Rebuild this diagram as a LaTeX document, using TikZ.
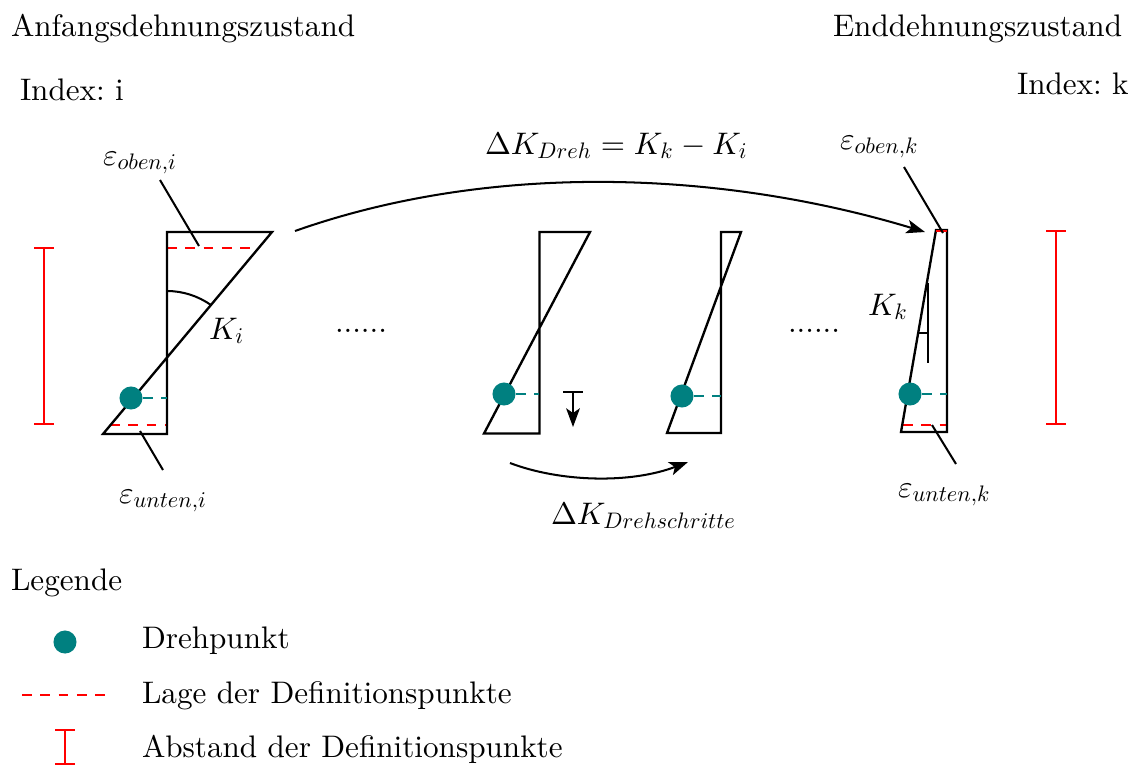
\documentclass[tikz,border=0pt]{standalone}
\usetikzlibrary{arrows.meta}
\DeclareFontFamily{OML}{cmmz}{\skewchar\font127 }
\DeclareFontShape{OML}{cmmz}{m}{it}{<->cmmi10}{}
\DeclareSymbolFont{letters}{OML}{cmmz}{m}{it}
\DeclareMathSizes{10}{10}{7.2}{5}
\definecolor{pivot}{RGB}{0,128,128}
\tikzset{
  x=0.321pt,y=-0.321pt,
  shape line/.style={black,line width=0.75pt,line join=miter},
  leader/.style={black,line width=0.65pt},
  defline/.style={red,line width=0.65pt,dash pattern=on 3.2pt off 2.66pt},
  pivotline/.style={pivot,line width=0.65pt,dash pattern=on 3.2pt off 2.66pt},
  span/.style={red,line width=0.75pt,{Bar[width=6.4pt,line width=0.75pt]}-{Bar[width=6.4pt,line width=0.75pt]}},
  pivotdot/.style={circle,fill=pivot,inner sep=0pt,minimum size=7.4pt},
  bigarrow/.style={black,line width=0.65pt,-{Stealth[length=6pt,width=4.4pt,inset=1.5pt]}},
  txt/.style={anchor=base west,inner sep=0pt,outer sep=0pt,execute at begin node=\frenchspacing},
}
\begin{document}
\begin{tikzpicture}
\useasboundingbox (0,0) rectangle (1133,765);
% texts
\node[txt] (t1) at (11,36) {Anfangsdehnungszustand};
\node[txt] (t2) at (20,100) {Index: i};
\node[txt] (t3) at (833,36) {Enddehnungszustand};
\node[txt] (t4) at (1017,94) {Index: k};
\node[txt] (t5) at (485,154) {$\Delta K_{Dreh}=K_k-K_i$};
\node[txt] (t6) at (103,165) {$\varepsilon_{oben,i}$};
\node[txt] (t7) at (840,149) {$\varepsilon_{oben,k}$};
\node[txt] (t8) at (119,503) {$\varepsilon_{unten,i}$};
\node[txt] (t9) at (898,497) {$\varepsilon_{unten,k}$};
\node[txt] (t10) at (209,339) {$K_i$};
\node[txt] (t11) at (868,315) {$K_k$};
\node[txt] (t12) at (335,332) {......};
\node[txt] (t13) at (788,332) {......};
\node[txt] (t14) at (551,524) {$\Delta K_{Drehschritte}$};
\node[txt] (t15) at (11,590) {Legende};
\node[txt] (t16) at (142,648) {Drehpunkt};
\node[txt] (t17) at (142,703) {Lage der Definitionspunkte};
\node[txt] (t18) at (142,757) {Abstand der Definitionspunkte};
% red definition lines
\coordinate (a1) at (167,248); \coordinate (a2) at (252,248);
\coordinate (a3) at (110,425); \coordinate (a4) at (167,425);
\coordinate (a5) at (936,231); \coordinate (a6) at (947,231);
\coordinate (a7) at (903,424.5); \coordinate (a8) at (947,424.5);
\coordinate (a9) at (22,695); \coordinate (a10) at (105,695);
\draw[defline] (a1) -- (a2);
\draw[defline] (a3) -- (a4);
\draw[defline] (a7) -- (a8);
\draw[defline] (a9) -- (a10);
% profiles
\draw[shape line] (167,358) -- (167,232) -- (272,232) -- (103,434) -- (167,434) -- cycle;
\draw[shape line] (539.5,232) -- (590,232) -- (484,433.5) -- (539.5,433.5) -- cycle;
\draw[shape line] (721,232) -- (741,232) -- (667,433) -- (721,433) -- cycle;
\draw[shape line] (947,230) -- (936,230) -- (901,432) -- (947,432) -- cycle;
\draw[red,line width=0.75pt] (a5) -- (a6);
% pivots, on top of the profiles
\node[pivotdot] (d1) at (131,398) {};
\node[pivotdot] (d2) at (504,394) {};
\node[pivotdot] (d3) at (682,396) {};
\node[pivotdot] (d4) at (910,394) {};
\node[pivotdot] (d5) at (65,642) {};
\coordinate (e1) at (167,398);
\coordinate (e2) at (539,394);
\coordinate (e3) at (721,396);
\coordinate (e4) at (947,394);
\draw[pivotline] (d1) -- (e1);
\draw[pivotline] (d2) -- (e2);
\draw[pivotline] (d3) -- (e3);
\draw[pivotline] (d4) -- (e4);
% angle marks
\coordinate (k1) at (167,291); \coordinate (k2) at (211,305);
\draw[leader] (k1) .. controls (183,291) and (198,296) .. (k2);
\coordinate (k3) at (928,283); \coordinate (k4) at (928,363);
\coordinate (k5) at (919,333); \coordinate (k6) at (928,333);
\draw[leader] (k3) -- (k4);
\draw[leader] (k5) -- (k6);
% leaders
\coordinate (l1) at (160,180); \coordinate (l2) at (199,246);
\coordinate (l3) at (140,431); \coordinate (l4) at (163,470);
\coordinate (l5) at (904,167); \coordinate (l6) at (943,233);
\coordinate (l7) at (932,425); \coordinate (l8) at (956,464);
\draw[leader] (l1) -- (l2);
\draw[leader] (l3) -- (l4);
\draw[leader] (l5) -- (l6);
\draw[leader] (l7) -- (l8);
% arrows
\coordinate (b1) at (295,231); \coordinate (b2) at (925,232);
\coordinate (b3) at (510,463); \coordinate (b4) at (688,462);
\draw[bigarrow] (b1) .. controls (490,162) and (720,170) .. (b2);
\draw[bigarrow] (b3) .. controls (560,482) and (630,484) .. (b4);
\coordinate (c1) at (573,392); \coordinate (c2) at (573,427);
\coordinate (c3) at (563,392); \coordinate (c4) at (583,392);
\draw[bigarrow] (c1) -- (c2);
\draw[leader] (c3) -- (c4);
% spans
\coordinate (s1) at (44,247); \coordinate (s2) at (44,425);
\coordinate (s3) at (1056,230); \coordinate (s4) at (1056,425);
\coordinate (s5) at (65,729); \coordinate (s6) at (65,765);
\draw[span] (s1) -- (s2);
\draw[span] (s3) -- (s4);
\draw[span] (s5) -- (s6);
\end{tikzpicture}
\end{document}
